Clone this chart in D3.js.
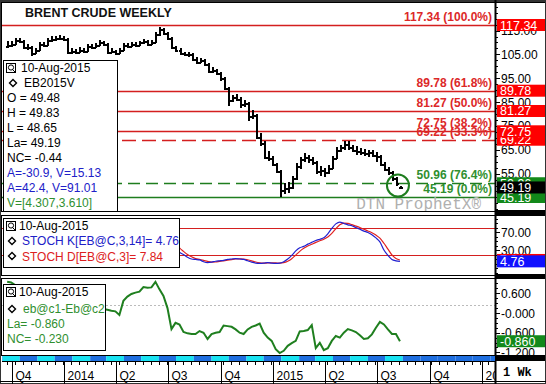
<!DOCTYPE html>
<html><head><meta charset="utf-8">
<script src="https://cdn.jsdelivr.net/npm/d3@7"></script>
<style>body{margin:0;background:#fff}svg{display:block}text{font-family:"Liberation Sans",Arial,sans-serif}</style>
</head><body><svg id="c" width="546" height="384"></svg>
<script>
// ---------- DATA ----------
const lastDate = "2015-08-10";
const closes = [109,109.5,111,110.5,108,108,105.5,107,109.5,109,111,111.5,112,112,111.5,106,106.5,106,107,106.5,108.5,108,109,110,109.5,106,106.5,105.5,107,109,108.5,109.5,109,110,110.5,109.5,110,113.5,115.5,114,112,108,107,105.5,105,105,103,102,102.5,101,98,98.5,97,95,91,86,87,86.5,84,84.5,79,79.5,70.5,68,62,61.5,59,56,48,49,49.5,53,58,61,62,61,60,56,56.5,55.5,57.5,61.5,65,66,67.5,66,65,64.5,64,63.5,64,63,62.5,59,57,55.5,53,51,49.19];
const opens = [108.5,109,109.5,111,110.5,108,108,105.5,107,109.5,109,111,111.5,112,112,111.5,106,106.5,106,107,106.5,108.5,108,109,110,109.5,106,106.5,105.5,107,109,108.5,109.5,109,110,110.5,109.5,110,113.5,115.5,114,112,108,107,105.5,105,105,103,102,102.5,101,98,98.5,97,95,91,86,87,86.5,84,84.5,79,79.5,70.5,68,62,61.5,59,56,48,49,49.5,53,58,61,62,61,60,56,56.5,55.5,57.5,61.5,65,66,67.5,66,65,64.5,64,63.5,64,63,62.5,59,57,55.5,53,49.48];
const highs = [110.5,110.8,112,111.8,111,109.3,108.6,107.8,110.2,110.4,111.8,112.6,112.8,113,112.6,111.8,107.5,107.4,108,107.8,109.2,109.4,109.8,110.9,110.8,109.8,107.6,107,107.8,109.8,109.6,110.3,110.2,110.8,111.4,111,111,114.2,116.4,115.9,114.5,112.3,108.6,107.5,106.2,106,105.4,103.8,103.4,103,101.4,99.6,99,97.5,95.5,91.5,88,88.2,87,86,85,81.5,80,72,68.5,64.5,62.5,59.5,56.5,51,51.5,54,59.5,62,63.5,63,62,60.5,58,57.5,58.5,62.5,66,67,68.8,68.5,67,66.5,65.8,65.5,65,64.8,64,63,59.8,57.8,56,53.5,49.83];
const lows = [107.8,108.2,109,109.6,107.2,106.8,104.5,105,106.6,108.1,108.6,110.4,110.8,110.9,110.5,105.4,105.2,105,105.6,105.6,106,107.2,107.5,108.5,108.6,105.3,105.5,104.8,105,106.6,107.8,108,108.2,108.6,109.5,108.8,109,109.7,112.8,113.2,111.3,107.4,106.2,104.8,104.2,104,102.3,101.2,101.3,100.2,97.2,97.4,96.2,94,90,83.5,85.2,85.4,82.5,83,77,77.8,70,66.5,61,60.5,58,55.5,45.19,46.5,47,48.5,52.5,57,60,59.5,58.5,55,54,53.5,54.8,57,61,64,65,65,64,63,62.8,62.5,62,61.8,60,58,56,54.5,52,49.8,48.65];
const stochK = [55,60,75,70,45,42,20,35,60,58,75,80,85,84,78,30,32,28,35,33,48,45,52,60,58,35,38,30,40,55,52,58,55,62,66,60,63,82,90,85,70,45,35,25,
  20,14,10,9,8,4,2,3,5,6,7,9,10,11,10,9,6,3,1,0.5,1,2,1,0.5,1,4,10,18,28,35,38,43,47,51,54,57,66,78,88,92,89,86,84,80,76,72,69,64,57,48,30,18,9,6,4.76];
const stochD = [50,55,63,68,63,52,36,32,38,51,64,71,80,83,82,64,47,30,32,32,39,42,48,52,57,51,44,34,36,42,49,55,55,58,61,63,63,68,78,86,82,67,50,35,
  27,20,15,11,9,7,4.7,3,3.3,4.7,6,7.3,8.7,10,10.3,10,8.3,6,3.3,1.5,0.8,1.2,1.3,1.2,0.8,1.8,5,10.7,18.7,27,33.7,38.7,42.7,47,50.7,54,59,67,77.3,86,89.7,89,86.3,83.3,80,76,72.3,68.3,63.3,56.3,45,32,19,11,7.84];
const spread = [0.95,0.93,0.85,0.8,0.75,0.7,0.6,0.55,0.5,0.45,0.4,0.42,0.38,0.35,0.3,0.32,0.28,0.25,0.2,0.22,0.18,0.15,0.12,0.1,0.12,0.1,0.07,0.05,-0.06,0.37,0.5,0.58,0.62,0.65,0.79,0.77,0.78,0.95,0.72,0.52,0.15,-0.49,-0.3,-0.35,-0.58,-0.62,-0.64,-0.64,-0.55,-0.6,-0.79,-0.64,-0.6,-0.58,-0.38,-0.4,-0.42,-0.5,-0.6,-0.64,-0.5,-0.42,-0.38,-0.32,-0.6,-0.75,-0.85,-1.1,-1.22,-1.15,-1.0,-0.92,-0.85,-0.56,-0.55,-0.52,-0.37,-1.07,-0.91,-1.13,-1.07,-0.85,-0.7,-0.75,-0.6,-0.49,-0.53,-0.58,-0.68,-0.79,-0.77,-0.65,-0.45,-0.27,-0.35,-0.5,-0.64,-0.64,-0.86];
const fibLevels = [117.34, 89.78, 81.27, 72.75, 69.22, 50.96, 45.19];
const fibPct = ["100.0%","61.8%","50.0%","38.2%","33.3%","76.4%","0.0%"];
const fibKind = ["r","r","r","r","rd","gd","g"];
const priceTicks = [55,65,75,85,95,105,115];
const stochTicks = [30,70];
const stochBands = [20,80];
const spreadTicks = [0.6,0,-0.6,-1.2];
const spreadRef = 0.24;
const quarterDates = ["2013-10-01","2014-01-01","2014-04-01","2014-07-01","2014-10-01","2015-01-01","2015-04-01","2015-07-01","2015-10-01","2016-01-01"];
const quarterLabels = ["Q4","2014","Q2","Q3","Q4","2015","Q2","Q3","Q4","2016"];
const legendTop = ["O = 49.48","H = 49.83","L = 48.65","La= 49.19","NC= -0.44"];
const legendBlue = ["A=-30.9, V=15.13","A=42.4, V=91.01"];
const legendGreen = "V=[4.307,3.610]";

// ---------- SETUP ----------
const svg = d3.select("#c");
const RED="#d41f1f", REDTXT="#dc2828", GRN="#1e7d1e", GRNTXT="#2f8f2f", BLUE="#2020c8";
const PL=2, PR=495;
const N = closes.length;
const parse = d3.utcParse("%Y-%m-%d");
const end = parse(lastDate);
const dates = d3.range(N).map(i => d3.utcDay.offset(end, -7*(N-1-i)));
const x = d3.scaleUtc().domain([parse("2013-09-14"), parse("2016-01-23")]).range([PL, PR]);
const P1 = {t:3, b:211}, P2 = {t:216, b:275}, P3 = {t:279, b:355};
const yP = d3.scaleLinear().domain([117.34,45.19]).range([25,197]);
const yS = d3.scaleLinear().domain([70,30]).range([232,250]);
const yC = d3.scaleLinear().domain([0.6,-1.2]).range([293.3,352.4]);

svg.append("rect").attr("width",546).attr("height",384).attr("fill","#fff");
const defs = svg.append("defs");
[["c1",P1],["c2",P2],["c3",P3]].forEach(([id,p]) => defs.append("clipPath").attr("id",id).append("rect").attr("x",PL).attr("y",p.t).attr("width",PR-PL).attr("height",p.b-p.t));
defs.append("clipPath").attr("id","cx").append("rect").attr("x",PL).attr("y",356).attr("width",PR-PL).attr("height",28);

// ---------- TOP PANEL ----------
const g1 = svg.append("g").attr("clip-path","url(#c1)");
fibLevels.forEach((v,i) => {
  const k = fibKind[i];
  g1.append("line").attr("x1",PL).attr("x2",PR).attr("y1",Math.round(yP(v))+0.5).attr("y2",Math.round(yP(v))+0.5)
    .attr("stroke", k[0]==="r"?RED:GRN).attr("stroke-width",1.3)
    .attr("stroke-dasharray", k.length>1 ? (k[0]==="r"?"14,6":"12,6") : null);
});
// watermark
g1.append("text").attr("x",481).attr("y",209).attr("text-anchor","end").attr("fill","#b0b0b0")
  .style("font-family","'Liberation Mono','DejaVu Sans Mono',monospace").style("font-size","16px").text("DTN ProphetX®");
fibLevels.forEach((v,i) => {
  g1.append("text").attr("x",492).attr("y",Math.round(yP(v))-4).attr("text-anchor","end")
    .attr("fill", fibKind[i][0]==="r"?REDTXT:GRNTXT).style("font-size","12px").style("font-weight","bold")
    .text(v.toFixed(2)+" ("+fibPct[i]+")");
});
// price bars
const bars = g1.append("g").attr("stroke","#000").attr("shape-rendering","crispEdges");
dates.forEach((d,i) => {
  const cx = Math.round(x(d));
  bars.append("line").attr("x1",cx+0.5).attr("x2",cx+0.5).attr("y1",yP(highs[i])).attr("y2",yP(lows[i])).attr("stroke-width",2);
  bars.append("line").attr("x1",cx-1.5).attr("x2",cx+1).attr("y1",Math.round(yP(opens[i]))+0.5).attr("y2",Math.round(yP(opens[i]))+0.5).attr("stroke-width",2);
  bars.append("line").attr("x1",cx).attr("x2",cx+2.5).attr("y1",Math.round(yP(closes[i]))+0.5).attr("y2",Math.round(yP(closes[i]))+0.5).attr("stroke-width",2);
});
// highlight circle
g1.append("circle").attr("cx",x(dates[N-1])-2).attr("cy",yP(closes[N-1])-2).attr("r",11).attr("fill","none").attr("stroke",GRN).attr("stroke-width",2);
// title
svg.append("text").attr("x",25).attr("y",17).style("font-size","12.5px").style("font-weight","bold").attr("fill","#111").text("BRENT CRUDE WEEKLY");
// legend
const lg = svg.append("g");
lg.append("rect").attr("x",3.5).attr("y",60.5).attr("width",114).attr("height",151).attr("fill","#fff").attr("stroke","#000");
function icon(g,x0,y0){
  g.append("rect").attr("x",x0+0.5).attr("y",y0+0.5).attr("width",9).attr("height",9).attr("fill","#fff").attr("stroke","#000");
  g.append("circle").attr("cx",x0+5).attr("cy",y0+4.5).attr("r",2.6).attr("fill","none").attr("stroke","#000");
  g.append("line").attr("x1",x0+6.5).attr("y1",y0+6.5).attr("x2",x0+9).attr("y2",y0+9).attr("stroke","#000");
}
function diamond(g,cx,cy,col){
  g.append("path").attr("d",`M${cx},${cy-3.5}L${cx+3.5},${cy}L${cx},${cy+3.5}L${cx-3.5},${cy}Z`).attr("fill","#fff").attr("stroke",col||"#000").attr("stroke-width",1.4);
}
icon(lg,6,63);
lg.append("text").attr("x",21).attr("y",72).style("font-size","12px").text("10-Aug-2015");
diamond(lg,13,83);
lg.append("text").attr("x",24).attr("y",87).style("font-size","12px").text("EB2015V");
legendTop.forEach((t,i)=> lg.append("text").attr("x",7).attr("y",102+i*15).style("font-size","12px").text(t));
legendBlue.forEach((t,i)=> lg.append("text").attr("x",7).attr("y",177+i*15).style("font-size","12px").attr("fill",BLUE).text(t));
lg.append("text").attr("x",7).attr("y",207).style("font-size","12px").attr("fill",GRNTXT).text(legendGreen);

// ---------- MIDDLE PANEL ----------
const g2 = svg.append("g").attr("clip-path","url(#c2)");
stochBands.forEach(v => g2.append("line").attr("x1",PL).attr("x2",PR).attr("y1",Math.round(yS(v))+0.5).attr("y2",Math.round(yS(v))+0.5).attr("stroke",RED).attr("stroke-width",1.2));
const lineS = arr => d3.line().x((d,i)=>x(dates[i])).y(d=>yS(d)).curve(d3.curveMonotoneX)(arr);
g2.append("path").attr("d",lineS(stochD)).attr("fill","none").attr("stroke","#e02020").attr("stroke-width",1.2);
g2.append("path").attr("d",lineS(stochK)).attr("fill","none").attr("stroke","#2020d0").attr("stroke-width",1.2);
const lg2 = svg.append("g");
lg2.append("rect").attr("x",3.5).attr("y",218.5).attr("width",176).attr("height",49).attr("fill","#fff").attr("stroke","#000");
icon(lg2,6,221);
lg2.append("text").attr("x",19).attr("y",230).style("font-size","12px").text("10-Aug-2015");
diamond(lg2,12,241);
lg2.append("text").attr("x",22).attr("y",245).style("font-size","12px").attr("fill",BLUE).text("STOCH K[EB@C,3,14]= 4.76");
diamond(lg2,12,256);
lg2.append("text").attr("x",22).attr("y",261).style("font-size","12px").attr("fill","#dd2020").text("STOCH D[EB@C,3]= 7.84");

// ---------- BOTTOM PANEL ----------
const g3 = svg.append("g").attr("clip-path","url(#c3)");
g3.append("line").attr("x1",PL).attr("x2",PR).attr("y1",Math.round(yC(spreadRef))+0.5).attr("y2",Math.round(yC(spreadRef))+0.5).attr("stroke","#bbb").attr("stroke-dasharray","2,2");
g3.append("path").attr("d", d3.line().x((d,i)=>x(dates[i])).y(d=>yC(d))(spread)).attr("fill","none").attr("stroke","#1f7f1f").attr("stroke-width",2);
const lg3 = svg.append("g");
lg3.append("rect").attr("x",3.5).attr("y",284.5).attr("width",102).attr("height",66).attr("fill","#fff").attr("stroke","#000");
icon(lg3,6,287);
lg3.append("text").attr("x",19).attr("y",296).style("font-size","12px").text("10-Aug-2015");
diamond(lg3,12,309);
lg3.append("text").attr("x",23).attr("y",313).style("font-size","12px").attr("fill",GRNTXT).text("eb@c1-Eb@c2");
lg3.append("text").attr("x",7).attr("y",328).style("font-size","12px").attr("fill",GRNTXT).text("La= -0.860");
lg3.append("text").attr("x",7).attr("y",343).style("font-size","12px").attr("fill",GRNTXT).text("NC= -0.230");

// ---------- FRAMES ----------
const fr = svg.append("g").attr("fill","none").attr("stroke","#000").attr("shape-rendering","crispEdges");
[P1,P2,P3].forEach(p => fr.append("rect").attr("x",1.5).attr("y",p.t-0.5).attr("width",PR-1).attr("height",p.b-p.t+1));
svg.append("rect").attr("x",PR).attr("y",0).attr("width",51).attr("height",3).attr("fill","#000");
svg.append("rect").attr("x",PR).attr("y",210).attr("width",51).attr("height",6).attr("fill","#000");
svg.append("rect").attr("x",PR).attr("y",274).attr("width",51).attr("height",5).attr("fill","#000");
svg.append("rect").attr("x",PR).attr("y",355).attr("width",51).attr("height",6).attr("fill","#000");
svg.append("rect").attr("x",0).attr("y",0).attr("width",546).attr("height",2).attr("fill","#333");
svg.append("rect").attr("x",0.5).attr("y",0.5).attr("width",545).attr("height",383).attr("fill","none").attr("stroke","#333");
svg.append("line").attr("x1",PR+0.5).attr("x2",PR+0.5).attr("y1",0).attr("y2",384).attr("stroke","#000").attr("stroke-width",2);

// ---------- RIGHT AXES ----------
function axisTicks(scale, ticks, minorStep, p, fmt){
  const g = svg.append("g");
  const inv = [scale.invert(p.b), scale.invert(p.t)];
  const a = Math.min(...inv), b = Math.max(...inv);
  for (let v = Math.ceil(a/minorStep)*minorStep; v <= b; v += minorStep) {
    const yy = Math.round(scale(v))+0.5;
    if (yy < p.t+1 || yy > p.b-1) continue;
    g.append("line").attr("x1",PR).attr("x2",PR+3).attr("y1",yy).attr("y2",yy).attr("stroke","#000");
  }
  ticks.forEach(v => {
    const yy = scale(v);
    if (yy < p.t || yy > p.b) return;
    g.append("line").attr("x1",PR).attr("x2",PR+5).attr("y1",Math.round(yy)+0.5).attr("y2",Math.round(yy)+0.5).attr("stroke","#000");
    g.append("text").attr("x",PR+6).attr("y",yy+4.5).style("font-size","12px").text(fmt(v));
  });
}
axisTicks(yP, priceTicks, 2.5, P1, v => v.toFixed(2));
axisTicks(yS, stochTicks, 10, P2, v => v.toFixed(2));
axisTicks(yC, spreadTicks, 0.15, P3, v => (v<=0?"-":"")+Math.abs(v).toFixed(3));

function box(v, scale, fill, label){
  const yy = scale(v);
  svg.append("rect").attr("x",PR+2).attr("y",yy-6).attr("width",48).attr("height",12).attr("fill",fill);
  svg.append("text").attr("x",PR+5).attr("y",yy+4.5).style("font-size","12.5px").attr("fill","#fff").text(label);
}
box(117.34, yP, "#ff0000", "117.34");
box(89.78, yP, "#ff0000", "89.78");
box(81.27, yP, "#ff0000", "81.27");
box(69.22, yP, "#ff0000", "69.22");
box(72.75, yP, "#ff0000", "72.75");
box(50.96, yP, "#12891a", "50.96");
box(45.19, yP, "#12891a", "45.19");
box(49.19, yP, "#000", "49.19");
box(7.84, yS, "#ff0000", "7.84");
box(4.76, yS, "#1010ff", "4.76");
box(-0.86, yC, "#12891a", "-0.860");

// ---------- TIME STRIP + X AXIS ----------
const strip = svg.append("g").attr("clip-path","url(#cx)");
const monthStarts = d3.utcMonth.range(parse("2013-08-01"), parse("2016-03-01")).map(m => d3.utcDay.offset(m,14));
monthStarts.forEach((m,i) => {
  const m2 = monthStarts[i+1] || parse("2016-04-01");
  const active = m < parse("2015-08-15");
  const odd = d3.utcMonth.count(parse("2013-09-15"), m) % 2 === 0;
  strip.append("rect").attr("x",x(m)).attr("y",356).attr("width",x(m2)-x(m)).attr("height",5)
    .attr("fill", active && odd ? "#19e3f2" : "#1f6fe0");
});
strip.append("line").attr("x1",PL).attr("x2",PR).attr("y1",361.5).attr("y2",361.5).attr("stroke","#000");
d3.utcWeek.every(2).range(parse("2013-09-01"), parse("2016-02-01")).forEach(w => {
  const xx = Math.round(x(w))+0.5;
  strip.append("line").attr("x1",xx).attr("x2",xx).attr("y1",362).attr("y2",365).attr("stroke","#000");
});
quarterDates.forEach((q,i) => {
  const xx = Math.round(x(parse(q)))+0.5;
  strip.append("line").attr("x1",xx).attr("x2",xx).attr("y1",362).attr("y2",384).attr("stroke","#000");
  strip.append("text").attr("x",xx+3).attr("y",380).style("font-size","12px").text(quarterLabels[i]);
});
svg.append("line").attr("x1",0).attr("x2",546).attr("y1",381.5).attr("y2",381.5).attr("stroke","#000");
svg.append("text").attr("x",503).attr("y",376).style("font-family","'Liberation Mono','DejaVu Sans Mono',monospace").style("font-size","12px").style("font-weight","bold").text("1 Wk");
</script></body></html>
